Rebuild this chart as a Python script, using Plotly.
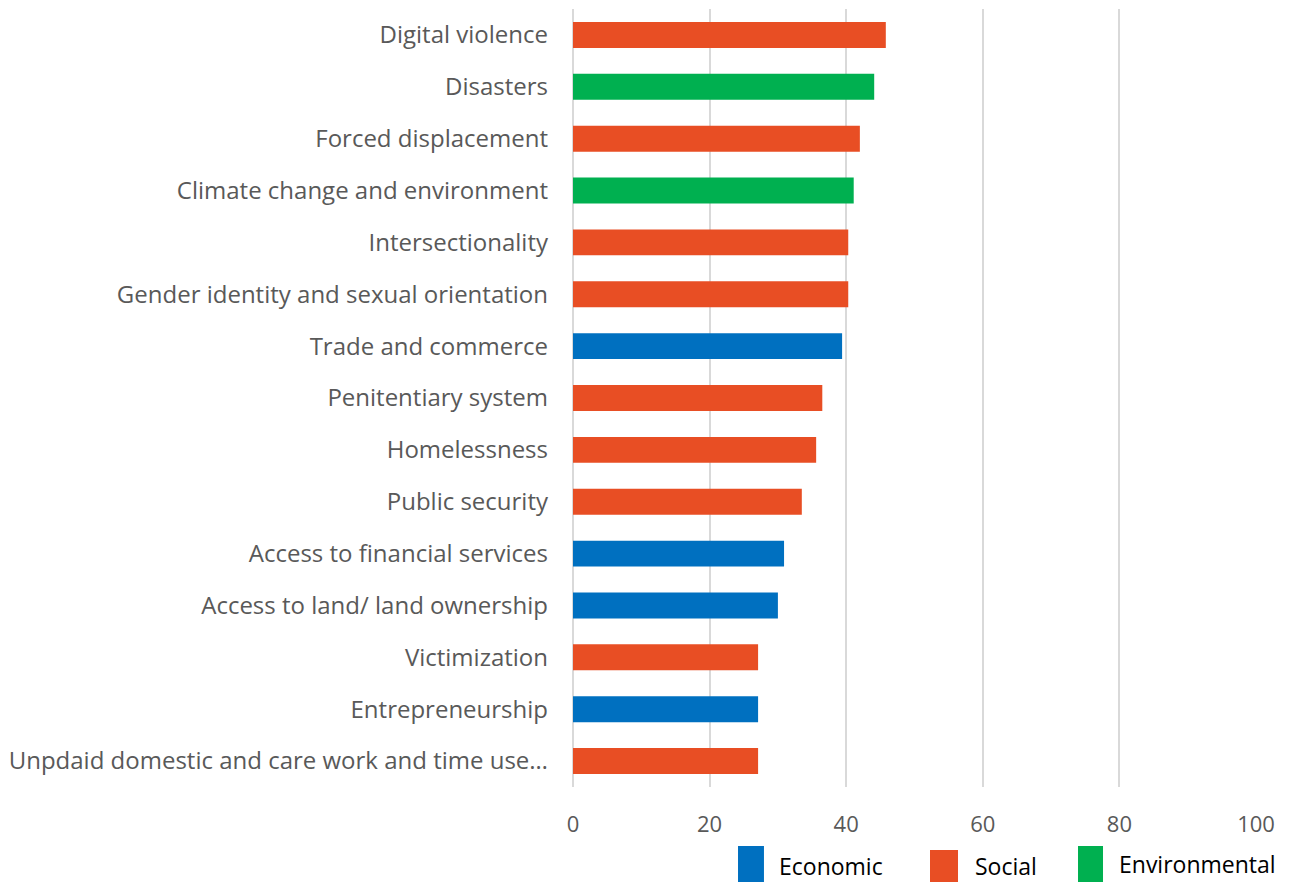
import plotly.graph_objects as go

# Categories top-to-bottom as shown in the chart
categories = [
    "Digital violence",
    "Disasters",
    "Forced displacement",
    "Climate change and environment",
    "Intersectionality",
    "Gender identity and sexual orientation",
    "Trade and commerce",
    "Penitentiary system",
    "Homelessness",
    "Public security",
    "Access to financial services",
    "Access to land/ land ownership",
    "Victimization",
    "Entrepreneurship",
    "Unpdaid domestic and care work and time use…",
]
values = [45.8, 44.1, 42.0, 41.1, 40.3, 40.3, 39.4, 36.5, 35.6, 33.5, 30.9, 30.0, 27.1, 27.1, 27.1]
groups = [
    "Social", "Environmental", "Social", "Environmental", "Social", "Social",
    "Economic", "Social", "Social", "Social", "Economic", "Economic",
    "Social", "Economic", "Social",
]
group_names = ["Economic", "Social", "Environmental"]
group_colors = {"Economic": "#0070C0", "Social": "#E84E24", "Environmental": "#00B050"}
x_ticks = [0, 20, 40, 60, 80, 100]

fig = go.Figure()
for g in group_names:
    ys = [c for c, gg in zip(categories, groups) if gg == g]
    xs = [v for v, gg in zip(values, groups) if gg == g]
    fig.add_trace(go.Bar(
        x=xs, y=ys, orientation="h", name=g,
        marker=dict(color=group_colors[g], line=dict(width=0)),
        width=0.5, showlegend=False,
        hovertemplate="%{y}: %{x}<extra></extra>",
    ))

FONT = "'Open Sans', sans-serif"

# page has an 8px body margin, so the figure is sized/placed to compensate
fig.update_layout(
    width=1286, height=874,
    margin=dict(l=565, r=38, t=1, b=95),
    paper_bgcolor="white", plot_bgcolor="white",
    barmode="overlay",
    xaxis=dict(
        range=[0, 100], tickvals=x_ticks, ticktext=[str(t) for t in x_ticks],
        showgrid=True, gridcolor="#D9D9D9", gridwidth=2,
        zeroline=True, zerolinecolor="#D9D9D9", zerolinewidth=2,
        showline=False, ticks="",
        tickfont=dict(family=FONT, size=22, color="#595959"),
        ticklabelstandoff=22, fixedrange=True,
    ),
    yaxis=dict(
        type="category",
        categoryorder="array", categoryarray=categories[::-1],
        showgrid=False, zeroline=False, showline=False, ticks="",
        tickfont=dict(family=FONT, size=24, color="#595959"),
        ticklabelstandoff=24, fixedrange=True,
    ),
)

# Custom legend (swatches + labels) below the axis
legend_swatch_x = {"Economic": (0.2416, 0.2796), "Social": (0.5227, 0.5637), "Environmental": (0.7394, 0.7760)}
legend_swatch_top = {"Economic": -0.0758, "Social": -0.0810, "Environmental": -0.0758}
legend_text_pos = {"Economic": (0.2987, -0.1010), "Social": (0.5857, -0.1010), "Environmental": (0.7965, -0.0995)}
for g in group_names:
    x0, x1 = legend_swatch_x[g]
    fig.add_shape(type="rect", xref="paper", yref="paper",
                  x0=x0, x1=x1, y0=legend_swatch_top[g], y1=-0.125,
                  fillcolor=group_colors[g], line=dict(width=0))
    tx, ty = legend_text_pos[g]
    fig.add_annotation(xref="paper", yref="paper", x=tx, y=ty, text=g,
                       showarrow=False, xanchor="left", yanchor="middle",
                       font=dict(family=FONT, size=23, color="#000000"))

fig.write_html("out.html")
